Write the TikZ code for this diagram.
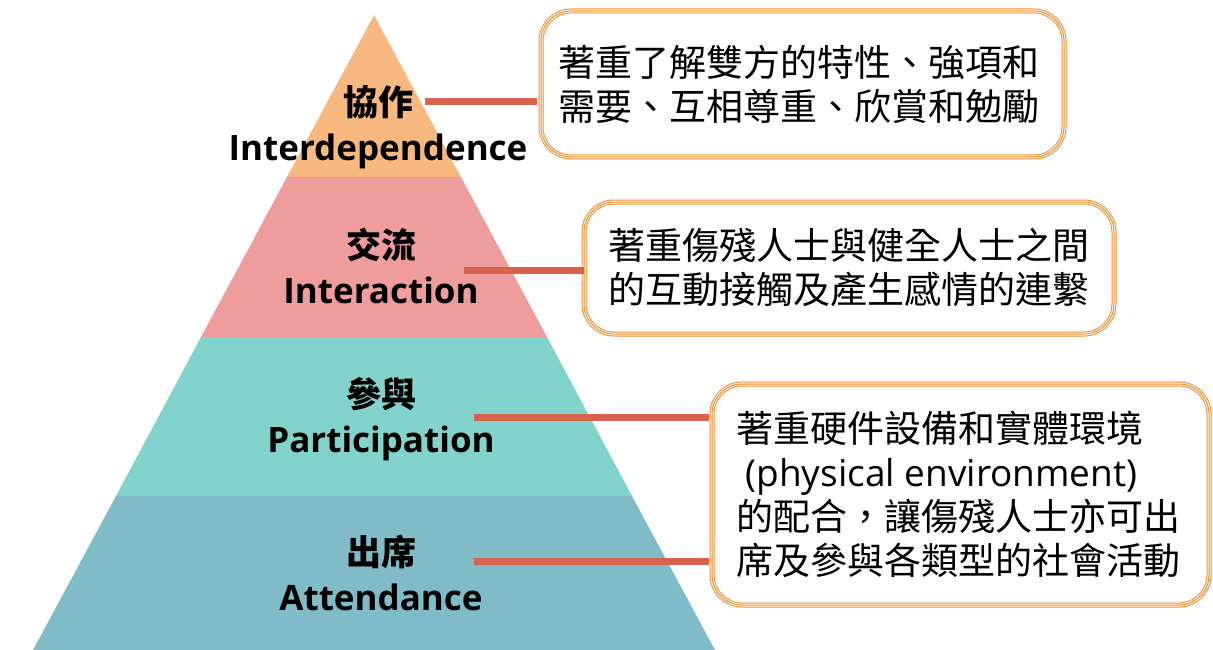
\documentclass[tikz,border=0pt]{standalone}
\usepackage{fontspec}
\setmainfont{Open Sans}
\newfontfamily\cjk{Noto Sans CJK TC}
\newfontfamily\cjkb{Noto Sans CJK TC Bold}
\definecolor{bandA}{HTML}{F8B980}
\definecolor{bandB}{HTML}{EF9C9C}
\definecolor{bandC}{HTML}{82D3CB}
\definecolor{bandD}{HTML}{80BCC8}
\definecolor{linkc}{HTML}{D6634C}
\definecolor{framec}{HTML}{F08A2A}
\tikzset{
  lvl/.style={font=\bfseries\fontsize{35}{46}\selectfont, align=center, inner sep=0pt},
  link/.style={draw=linkc, line width=7pt},
  note/.style={align=left, inner sep=0pt, font=\cjk\fontsize{37}{44}\selectfont},
}
\newcommand{\tripleframe}[4]{%
  \draw[framec, line width=5pt, rounded corners=30pt] (#1,#2) rectangle (#3,#4);
  \draw[white, line width=3pt, rounded corners=30pt] (#1,#2) rectangle (#3,#4);
  \draw[framec, line width=1pt, rounded corners=30pt] (#1,#2) rectangle (#3,#4);
}
\begin{document}
\begin{tikzpicture}[x=1pt,y=-1pt]
\useasboundingbox (0,0) rectangle (1213,650);
% pyramid bands
\fill[bandA] (374,15) -- (461,177) -- (287,177) -- cycle;
\fill[bandB] (287,177) -- (461,177) -- (547,337) -- (201,337) -- cycle;
\fill[bandC] (201,337) -- (547,337) -- (632,496) -- (116,496) -- cycle;
\fill[bandD] (116,496) -- (632,496) -- (715,650) -- (33,650) -- cycle;
% level labels
\node[lvl] (l1) at (378,127.5) {{\cjkb 協作}\\[-1pt]Interdependence};
\node[lvl] (l2) at (381,266) {{\cjkb 交流}\\[-1pt]Interaction};
\node[lvl] (l3) at (381,419) {{\cjkb 參與}\\[-1pt]Participation};
\node[lvl] (l4) at (381,573) {{\cjkb 出席}\\[-1pt]Attendance};
% frames
\tripleframe{541}{11}{1064}{157}
\tripleframe{584}{202}{1114}{334}
\tripleframe{712}{384}{1209}{605}
\node[note, minimum width=523pt, minimum height=146pt] (b1) at (799,84) {著重了解雙方的特性、強項和\\需要、互相尊重、欣賞和勉勵};
\node[note, minimum width=530pt, minimum height=132pt] (b2) at (849,268) {著重傷殘人士與健全人士之間\\的互動接觸及產生感情的連繫};
\node[note, minimum width=497pt, minimum height=221pt] (b3) at (958,494.5) {著重硬件設備和實體環境\\{\rmfamily\ (physical environment)}\\的配合，讓傷殘人士亦可出\\席及參與各類型的社會活動};
% connectors
\coordinate (s1) at (425,102);
\coordinate (s2) at (464,270);
\coordinate (s3) at (474,417);
\coordinate (s4) at (474,561);
\draw[link] (s1) -- (s1 -| b1.west);
\draw[link] (s2) -- (s2 -| b2.west);
\draw[link] (s3) -- (s3 -| b3.west);
\draw[link] (s4) -- (s4 -| b3.west);
\end{tikzpicture}
\end{document}
